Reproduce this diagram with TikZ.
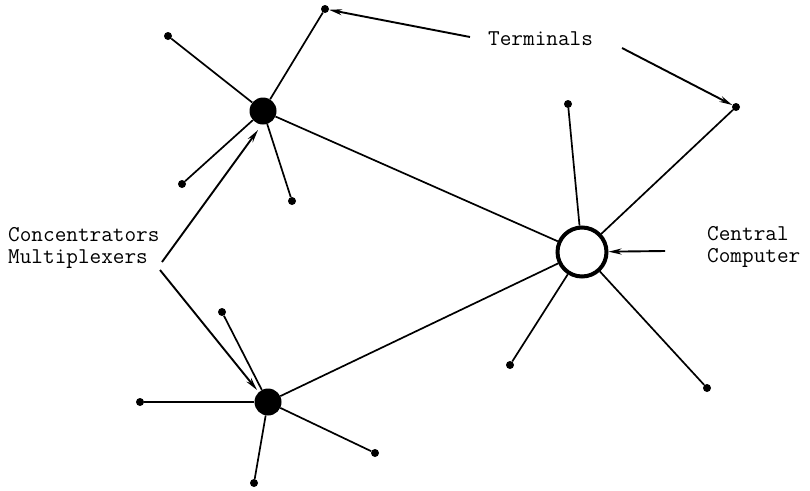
\documentclass[tikz,border=0pt]{standalone}
\usetikzlibrary{arrows.meta}
\begin{document}
\begin{tikzpicture}[x=1pt,y=-1pt,
  term/.style={circle,fill=black,inner sep=0pt,minimum size=8pt},
  conc/.style={circle,fill=black,inner sep=0pt,minimum size=27pt},
  central/.style={circle,draw=black,line width=4pt,fill=white,inner sep=0pt,minimum size=49pt},
  link/.style={line width=1.7pt},
  ptr/.style={line width=1.9pt,-{Stealth[length=13pt,width=6pt]}},
  lbl/.style={font=\fontsize{22.6}{21.5}\selectfont\ttfamily,inner sep=0pt,align=left,anchor=base west}
]
\useasboundingbox (0,0) rectangle (810,490);
% hubs
\node[conc] (A) at (263,111) {};
\node[conc] (B) at (268,402) {};
\node[central] (C) at (582,252) {};
% terminals of A
\node[term] (a1) at (325,9) {};
\node[term] (a2) at (168,36) {};
\node[term] (a3) at (182,184) {};
\node[term] (a4) at (292,201) {};
% terminals of B
\node[term] (b1) at (222,312) {};
\node[term] (b2) at (140,402) {};
\node[term] (b3) at (254,483) {};
\node[term] (b4) at (375,453) {};
% terminals of C
\node[term] (c1) at (568,104) {};
\node[term] (c2) at (736,107) {};
\node[term] (c3) at (510,365) {};
\node[term] (c4) at (707,388) {};
% links
\foreach \t in {a1,a2,a3,a4} \draw[link] (A) -- (\t);
\foreach \t in {b1,b2,b3,b4} \draw[link] (B) -- (\t);
\foreach \t in {c1,c2,c3,c4} \draw[link] (C) -- (\t);
\draw[link] (A) -- (C);
\draw[link] (B) -- (C);
% labels
\node[lbl] (lt) at (488,45) {Terminals};
\node[lbl] (lc) at (8,263) {Concentrators\\Multiplexers};
\node[lbl] (lm) at (707,262) {Central\\Computer};
% pointer ends
\coordinate (t1) at (470,37);
\coordinate (t2) at (622,48);
\coordinate (k1) at (162,262);
\coordinate (k2) at (160,270);
\coordinate (m1) at (665,251);
\draw[ptr] (t1) -- (a1);
\draw[ptr] (t2) -- (c2);
\draw[ptr] (k1) -- (258,130);
\draw[ptr] (k2) -- (257,390);
\draw[ptr] (m1) -- (C);
\end{tikzpicture}
\end{document}
